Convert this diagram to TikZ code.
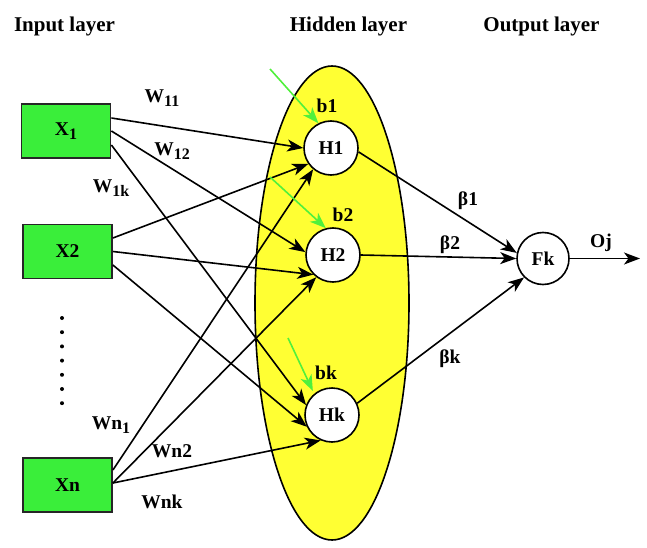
\documentclass[tikz,border=0pt]{standalone}
\usepackage{fontspec}
\setmainfont{Liberation Serif}
\usetikzlibrary{shapes.geometric,arrows.meta}

\definecolor{boxgreen}{RGB}{58,238,58}
\definecolor{biasgreen}{RGB}{80,240,60}
\definecolor{layeryellow}{RGB}{255,255,51}

\tikzset{
  title/.style={font=\fontsize{21}{21}\selectfont\bfseries, anchor=base},
  lbl/.style={font=\fontsize{19.5}{19.5}\selectfont\bfseries, inner sep=0pt},
  inbox/.style={draw=black!85, line width=1.8pt, fill=boxgreen, minimum width=89pt,
    minimum height=54pt, inner sep=0pt, font=\fontsize{19.5}{19.5}\selectfont\bfseries},
  neuron/.style={circle, draw, line width=1.6pt, fill=white, minimum size=54pt,
    inner sep=0pt, font=\fontsize{19.5}{19.5}\selectfont\bfseries},
  link/.style={line width=1.6pt, -{Stealth[length=16pt,width=12pt,inset=4.5pt]}},
  bias/.style={line width=1.6pt, draw=biasgreen,
    -{Stealth[length=16pt,width=12pt,inset=4.5pt,fill=biasgreen]}},
}
\newcommand{\sbs}[1]{\raisebox{-4.5pt}{\fontsize{16}{16}\selectfont #1}}

\begin{document}
\begin{tikzpicture}[x=1pt,y=-1pt]
\useasboundingbox (0,0) rectangle (647,548);

% layer titles
\node[title] (tin)  at (64.5,32)  {Input layer};
\node[title] (thid) at (348.5,32) {Hidden layer};
\node[title] (tout) at (541.5,32) {Output layer};

% hidden layer
\node[ellipse, draw, line width=1.6pt, fill=layeryellow, minimum width=154pt,
      minimum height=474pt, inner sep=0pt] (hid) at (332,303) {};

% input boxes
\node[inbox] (X1) at (66,131)    {X\sbs{1}};
\node[inbox] (X2) at (67.5,251.5) {X2};
\node[inbox] (Xn) at (67.5,485)  {Xn};

% vertical dots between X2 and Xn
\foreach \k in {0,...,6}
  \fill (62,318+14.2*\k) circle (2pt);

% neurons
\node[neuron] (H1) at (331,148) {H1};
\node[neuron] (H2) at (333,255) {H2};
\node[neuron] (Hk) at (332,415) {Hk};
\node[neuron, minimum size=52pt] (Fk) at (543,258.5) {Fk};

% input -> hidden connections
\draw[link] ([yshift=13pt]X1.east) -- (H1.180);
\draw[link] (X1.east) -- (H2.174);
\draw[link] ([yshift=-14pt]X1.east) -- (Hk.159);
\draw[link] ([yshift=13.5pt]X2.east) -- (H1.215);
\draw[link] (X2.east) -- (H2.225);
\draw[link] ([yshift=-13.5pt]X2.east) -- (Hk.205);
\draw[link] ([yshift=15pt]Xn.east) -- (H1.230);
\draw[link] ([yshift=2pt]Xn.east) -- (H2.233);
\draw[link] ([yshift=2pt]Xn.east) -- (Hk.246);

% hidden -> output
\draw[link] (H1.-8) -- (Fk.168);
\draw[link] (H2.0) -- (Fk.180);
\draw[link] (Hk.25) -- (Fk.225);
\coordinate (out) at (640,258.5);
\draw[link] (Fk.0) -- (out);

% bias inputs
\coordinate (b1s) at (270,69);
\coordinate (b2s) at (270,177);
\coordinate (bks) at (288,338);
\draw[bias] (b1s) -- (H1.117);
\draw[bias] (b2s) -- (H2.105);
\draw[bias, shorten >=3pt] (bks) -- (Hk.130);

% labels
\node[lbl] (w11) at (162,98)  {W\sbs{11}};
\node[lbl] (w12) at (172,151) {W\sbs{12}};
\node[lbl] (w1k) at (111,188) {W\sbs{1k}};
\node[lbl] (wn1) at (111,425) {Wn\sbs{1}};
\node[lbl] (wn2) at (172,451) {Wn2};
\node[lbl] (wnk) at (162,502) {Wnk};
\node[lbl] (lb1) at (327,106) {b1};
\node[lbl] (lb2) at (343,215) {b2};
\node[lbl] (lbk) at (326,373) {bk};
\node[lbl] (be1) at (468,201) {β1};
\node[lbl] (be2) at (450,245) {β2};
\node[lbl] (bek) at (450,359) {βk};
\node[lbl] (oj)  at (601,243) {Oj};
\end{tikzpicture}
\end{document}
